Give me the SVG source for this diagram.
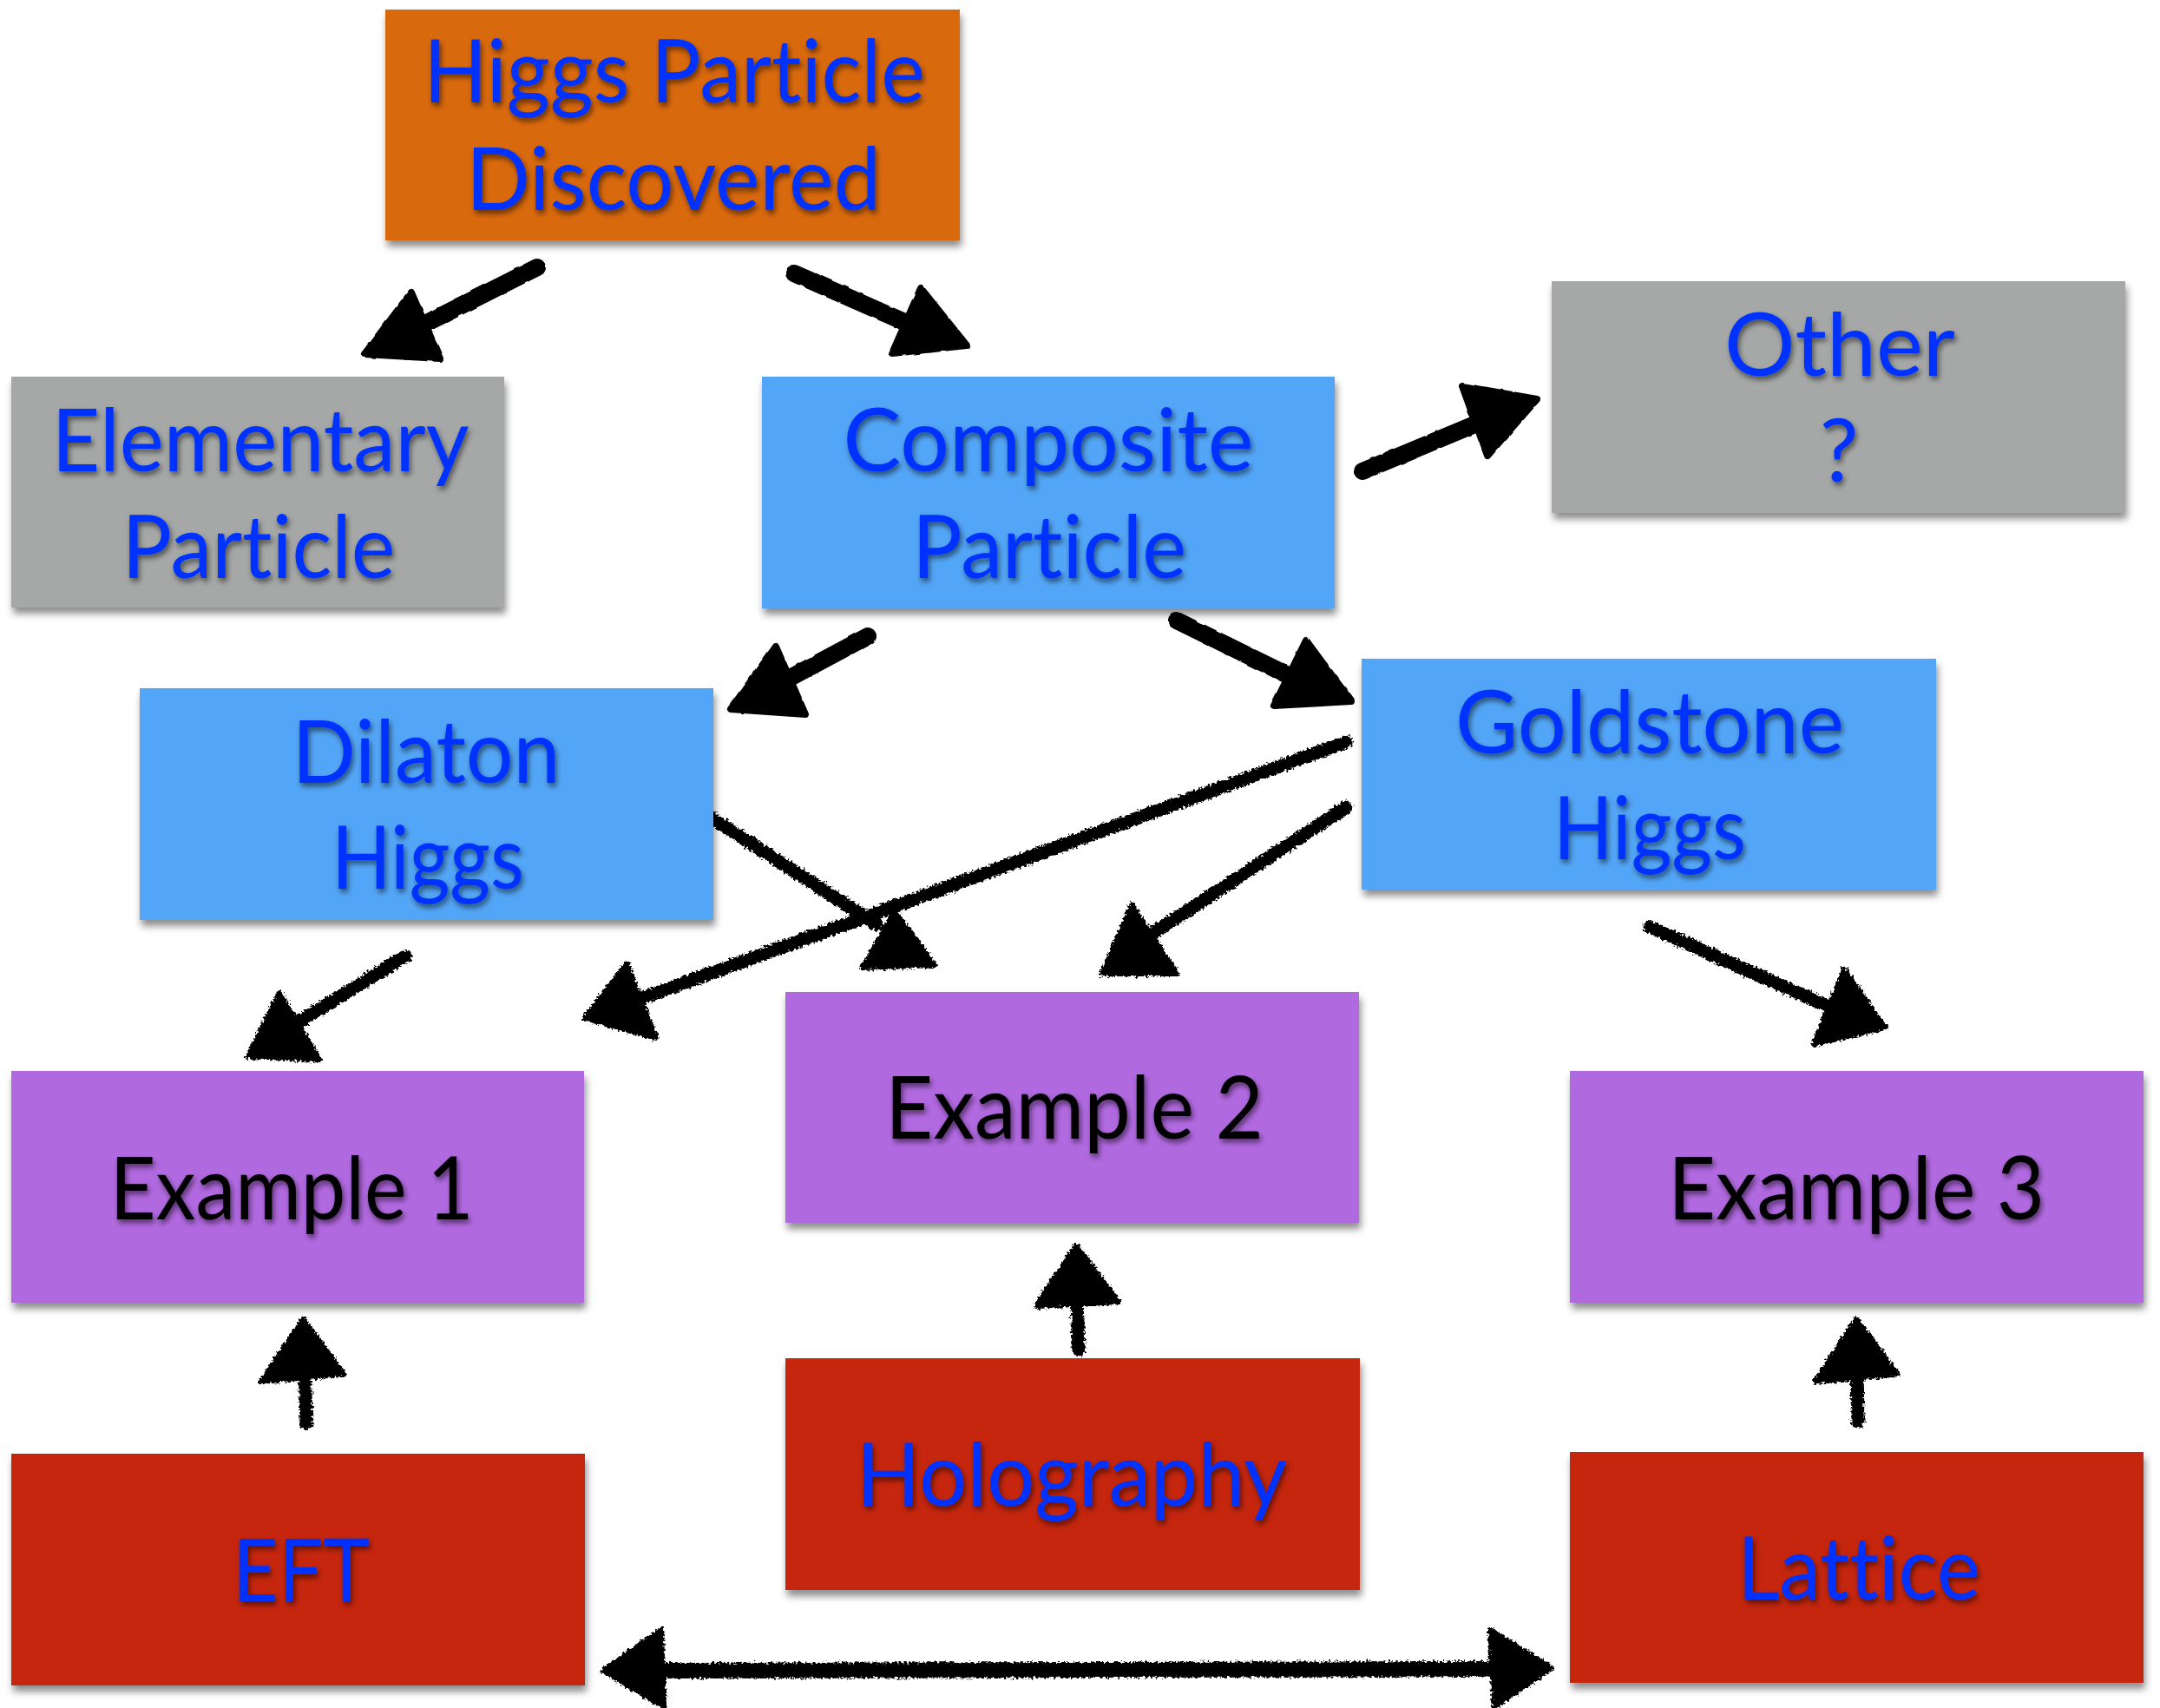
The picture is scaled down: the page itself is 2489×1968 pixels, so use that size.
<svg xmlns="http://www.w3.org/2000/svg" width="2489" height="1968" viewBox="0 0 2489 1968">
<defs>
<filter id="boxShadow" x="-5%" y="-5%" width="115%" height="120%">
<feDropShadow dx="2" dy="7" stdDeviation="4" flood-color="#000" flood-opacity="0.45"/>
</filter>
<filter id="textShadow" x="-10%" y="-20%" width="120%" height="150%">
<feDropShadow dx="2" dy="4" stdDeviation="3" flood-color="#000" flood-opacity="0.55"/>
</filter>
<filter id="rough" x="-10%" y="-10%" width="120%" height="120%">
<feTurbulence type="fractalNoise" baseFrequency="0.35" numOctaves="2" seed="3" result="n"/>
<feDisplacementMap in="SourceGraphic" in2="n" scale="8" xChannelSelector="R" yChannelSelector="G"/>
</filter>
<filter id="brush" x="-10%" y="-10%" width="120%" height="120%">
<feTurbulence type="fractalNoise" baseFrequency="0.08" numOctaves="1" seed="5" result="n"/>
<feDisplacementMap in="SourceGraphic" in2="n" scale="3" xChannelSelector="R" yChannelSelector="G"/>
</filter>
</defs>
<style>
.box{filter:url(#boxShadow);}
.orange{fill:#D9690F;}
.gray{fill:#A5A8A7;}
.blue{fill:#52A6F7;}
.purple{fill:#B169E0;}
.red{fill:#C52507;}
.lbl{font-family:Lato,"Open Sans","Liberation Sans",sans-serif;font-size:100px;text-anchor:middle;font-variant-ligatures:none;font-feature-settings:"liga" 0,"clig" 0;filter:url(#textShadow);}
.bt{fill:#0533FF;}
.kt{fill:#000;}
.shaftB{stroke:#000;stroke-width:20;stroke-linecap:round;fill:none;}
.headB{fill:#000;stroke:#000;stroke-width:8;stroke-linejoin:round;}
.shaftC{stroke:#000;stroke-width:15;stroke-linecap:round;fill:none;}
.headC{fill:#000;stroke:#000;stroke-width:6;stroke-linejoin:round;}
</style>
<rect width="2489" height="1968" fill="#fff"/>

<g id="connectors">
<g filter="url(#brush)">
<line class="shaftB" x1="619" y1="308" x2="492" y2="372"/>
<polygon class="headB" points="474,337 420,408 507,413"/>
<line class="shaftB" x1="915" y1="315" x2="1040" y2="370"/>
<polygon class="headB" points="1061,332 1028,407 1114,398"/>
<line class="shaftB" x1="1570" y1="543" x2="1697" y2="490"/>
<polygon class="headB" points="1685,445 1771,460 1714,525"/>
<line class="shaftB" x1="1000" y1="733" x2="914" y2="779"/>
<polygon class="headB" points="894,745 842,817 928,823"/>
<line class="shaftB" x1="1356" y1="715" x2="1482" y2="777"/>
<polygon class="headB" points="1505,738 1468,813 1557,808"/>
</g>
<g filter="url(#rough)">
<line class="shaftC" x1="816" y1="940" x2="1010" y2="1065"/>
<polygon class="headC" points="1031,1050 994,1115 1077,1112"/>
<line class="shaftC" x1="1551" y1="855" x2="740" y2="1150"/>
<polygon class="headC" points="722,1110 674,1173 756,1196"/>
<line class="shaftC" x1="1551" y1="930" x2="1318" y2="1082"/>
<polygon class="headC" points="1304,1043 1270,1122 1356,1122"/>
<line class="shaftC" x1="467" y1="1102" x2="340" y2="1180"/>
<polygon class="headC" points="322,1144 286,1217 368,1221"/>
<line class="shaftC" x1="1901" y1="1068" x2="2112" y2="1162"/>
<polygon class="headC" points="2125,1117 2090,1203 2172,1184"/>
<line class="shaftC" x1="351" y1="1570" x2="353" y2="1640"/>
<polygon class="headC" points="349,1520 301,1592 396,1583"/>
<line class="shaftC" x1="1241" y1="1490" x2="1243" y2="1555"/>
<polygon class="headC" points="1240,1435 1194,1505 1289,1500"/>
<line class="shaftC" x1="2140" y1="1570" x2="2141" y2="1638"/>
<polygon class="headC" points="2139,1520 2092,1592 2186,1583"/>
<line class="shaftC" style="stroke-width:18" x1="740" y1="1925" x2="1745" y2="1923"/>
<polygon class="headC" points="695,1925 762,1878 765,1967"/>
<polygon class="headC" points="1788,1922 1717,1878 1722,1967"/>
</g>
</g>

<g id="higgs-discovered">
<rect class="box orange" x="444" y="11" width="662" height="266"/>
<text class="lbl bt" x="777" y="118" textLength="578" lengthAdjust="spacingAndGlyphs">Higgs Particle</text>
<text class="lbl bt" x="776" y="242" textLength="478" lengthAdjust="spacingAndGlyphs">Discovered</text>
</g>
<g id="elementary-particle">
<rect class="box gray" x="13" y="434" width="568" height="266"/>
<text class="lbl bt" x="300" y="543" textLength="481" lengthAdjust="spacingAndGlyphs">Elementary</text>
<text class="lbl bt" x="298" y="666" textLength="315" lengthAdjust="spacingAndGlyphs">Particle</text>
</g>
<g id="composite-particle">
<rect class="box blue" x="878" y="434" width="660" height="267"/>
<text class="lbl bt" x="1208" y="543" textLength="473" lengthAdjust="spacingAndGlyphs">Composite</text>
<text class="lbl bt" x="1209" y="666" textLength="316" lengthAdjust="spacingAndGlyphs">Particle</text>
</g>
<g id="other">
<rect class="box gray" x="1788" y="324" width="661" height="267"/>
<text class="lbl bt" x="2120" y="433" textLength="266" lengthAdjust="spacingAndGlyphs">Other</text>
<text class="lbl bt" x="2119" y="555">?</text>
</g>
<g id="dilaton-higgs">
<rect class="box blue" x="161" y="793" width="661" height="267"/>
<text class="lbl bt" x="491" y="902" textLength="309" lengthAdjust="spacingAndGlyphs">Dilaton</text>
<text class="lbl bt" x="493" y="1024" textLength="222" lengthAdjust="spacingAndGlyphs">Higgs</text>
</g>
<g id="goldstone-higgs">
<rect class="box blue" x="1569" y="759" width="662" height="266"/>
<text class="lbl bt" x="1901" y="868" textLength="448" lengthAdjust="spacingAndGlyphs">Goldstone</text>
<text class="lbl bt" x="1901" y="990" textLength="222" lengthAdjust="spacingAndGlyphs">Higgs</text>
</g>
<g id="example-1">
<rect class="box purple" x="13" y="1234" width="660" height="267"/>
<text class="lbl kt" x="336" y="1405" textLength="419" lengthAdjust="spacingAndGlyphs">Example 1</text>
</g>
<g id="example-2">
<rect class="box purple" x="905" y="1143" width="661" height="266"/>
<text class="lbl kt" x="1238" y="1312" textLength="436" lengthAdjust="spacingAndGlyphs">Example 2</text>
</g>
<g id="example-3">
<rect class="box purple" x="1809" y="1234" width="661" height="267"/>
<text class="lbl kt" x="2139" y="1405" textLength="434" lengthAdjust="spacingAndGlyphs">Example 3</text>
</g>
<g id="eft">
<rect class="box red" x="13" y="1675" width="661" height="267"/>
<text class="lbl bt" x="347" y="1845" textLength="158" lengthAdjust="spacingAndGlyphs">EFT</text>
</g>
<g id="holography">
<rect class="box red" x="905" y="1565" width="662" height="267"/>
<text class="lbl bt" x="1235" y="1735" textLength="497" lengthAdjust="spacingAndGlyphs">Holography</text>
</g>
<g id="lattice">
<rect class="box red" x="1809" y="1673" width="661" height="266"/>
<text class="lbl bt" x="2142" y="1843" textLength="280" lengthAdjust="spacingAndGlyphs">Lattice</text>
</g>
</svg>
